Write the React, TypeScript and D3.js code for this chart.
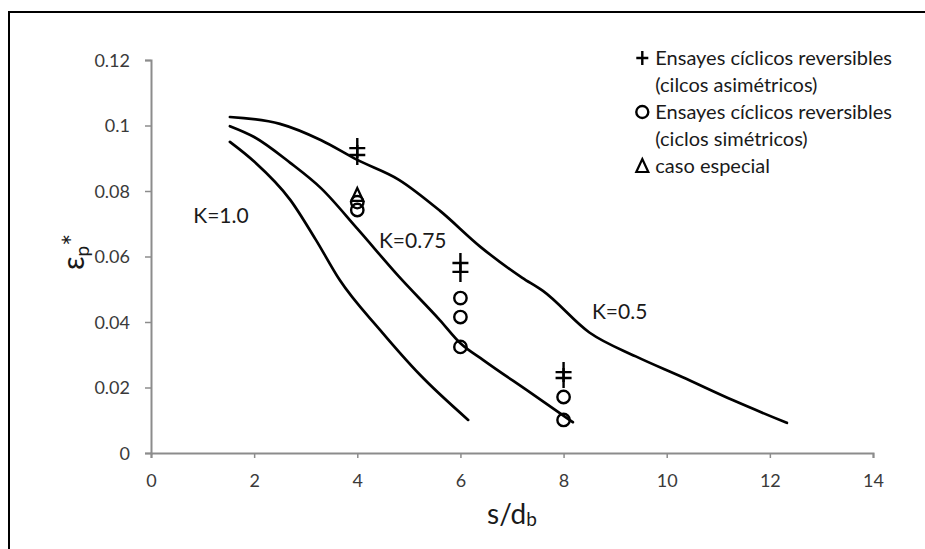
import React, { useEffect, useRef } from 'react';
import * as d3 from 'd3';

// tick values and labels (Excel style)
const xTicks = [0, 2, 4, 6, 8, 10, 12, 14];
const yTicks = [0, 0.02, 0.04, 0.06, 0.08, 0.1, 0.12];
const yTickLabels = ['0', '0.02', '0.04', '0.06', '0.08', '0.1', '0.12'];

// fitted curves, [s/db, ep*]
const curveK05 = [
  [1.53, 0.1026], [2.5, 0.1005], [3.3, 0.0955], [4.0, 0.0895], [4.8, 0.0835],
  [5.6, 0.074], [6.4, 0.0628], [7.2, 0.0535], [7.6, 0.0495], [8.5, 0.0368],
  [9.4, 0.0295], [10.3, 0.0232], [11.3, 0.016], [12.33, 0.0092],
];
const curveK075 = [
  [1.53, 0.0998], [2.0, 0.0965], [2.7, 0.0886], [3.3, 0.0808], [4.0, 0.0685],
  [4.8, 0.054], [5.6, 0.0406], [6.0, 0.0335], [6.45, 0.0283], [7.35, 0.0185],
  [8.18, 0.0094],
];
const curveK10 = [
  [1.53, 0.095], [2.0, 0.089], [2.7, 0.0773], [3.2, 0.065], [3.66, 0.0528],
  [4.44, 0.0376], [5.22, 0.0238], [6.15, 0.0101],
];

// test points
const asimetricos = [
  [4, 0.0931], [4, 0.091], [6, 0.058], [6, 0.0553], [8, 0.0247], [8, 0.0229],
];
const simetricos = [
  [4, 0.0766], [4, 0.0742], [6, 0.0473], [6, 0.0415], [6, 0.0324],
  [8, 0.0171], [8, 0.0101],
];
const especial = [[4, 0.0788]];

const curveLabels = [
  { text: 'K=1.0', x: 0.82, y: 0.0725 },
  { text: 'K=0.75', x: 4.42, y: 0.0648 },
  { text: 'K=0.5', x: 8.55, y: 0.0432 },
];

const legendLines = [
  { sym: 'plus', text: 'Ensayes cíclicos reversibles' },
  { sym: null, text: '(cilcos asimétricos)' },
  { sym: 'circle', text: 'Ensayes cíclicos reversibles' },
  { sym: null, text: '(ciclos simétricos)' },
  { sym: 'tri', text: 'caso especial' },
];

const FONT = 'Lato, "Open Sans", sans-serif';

const App: React.FC = () => {
  const chartRef = useRef<SVGSVGElement>(null);

  useEffect(() => {
    const svg = d3.select(chartRef.current);
    svg.selectAll('*').remove();

    const x = d3.scaleLinear().domain([0, 14]).range([151, 873]);
    const y = d3.scaleLinear().domain([0, 0.12]).range([453, 60]);

    svg.append('rect').attr('width', 925).attr('height', 549).attr('fill', '#fff');

    // outer frame
    svg
      .append('path')
      .attr('d', 'M9,560 L9,12 L925,12')
      .attr('fill', 'none')
      .attr('stroke', '#000')
      .attr('stroke-width', 2);

    const axisColor = '#8c8c8c';

    const gx = svg
      .append('g')
      .attr('transform', `translate(0,${y(0)})`)
      .call(d3.axisBottom(x).tickValues(xTicks).tickSize(5).tickPadding(16).tickFormat(d3.format('d')));
    const gy = svg
      .append('g')
      .attr('transform', `translate(${x(0)},0)`)
      .call(
        d3
          .axisLeft(y)
          .tickValues(yTicks)
          .tickSize(6)
          .tickPadding(15)
          .tickFormat((d, i) => yTickLabels[i])
      );

    [gx, gy].forEach((g) => {
      g.select('.domain').attr('stroke', axisColor).attr('stroke-width', 2);
      g.selectAll('.tick line').attr('stroke', axisColor).attr('stroke-width', 1.5);
      g.selectAll('.tick text')
        .attr('fill', '#3a3a3a')
        .attr('font-family', FONT)
        .attr('font-size', 18);
    });
    gy.selectAll('.tick text').attr('dy', '0.35em');

    // curves
    const line = d3
      .line()
      .curve(d3.curveMonotoneX)
      .x((d) => x(d[0]))
      .y((d) => y(d[1]));

    [curveK05, curveK075, curveK10].forEach((c) => {
      svg
        .append('path')
        .datum(c)
        .attr('d', line)
        .attr('fill', 'none')
        .attr('stroke', '#000')
        .attr('stroke-width', 2.7)
        .attr('stroke-linecap', 'round');
    });

    // markers
    const drawPlus = (g, cx, cy, s = 8, v = 10) => {
      g.append('path')
        .attr('d', `M${cx - s},${cy} H${cx + s} M${cx},${cy - v} V${cy + v}`)
        .attr('stroke', '#000')
        .attr('stroke-width', 2.4)
        .attr('fill', 'none');
    };
    const drawCircle = (g, cx, cy, r = 6.2) => {
      g.append('circle')
        .attr('cx', cx)
        .attr('cy', cy)
        .attr('r', r)
        .attr('fill', 'none')
        .attr('stroke', '#000')
        .attr('stroke-width', 2.4);
    };
    const drawTri = (g, cx, cy, s = 6) => {
      g.append('path')
        .attr('d', `M${cx},${cy - s - 1} L${cx + s},${cy + s} L${cx - s},${cy + s} Z`)
        .attr('fill', 'none')
        .attr('stroke', '#000')
        .attr('stroke-width', 2.2);
    };

    const marks = svg.append('g');
    simetricos.forEach((d) => drawCircle(marks, x(d[0]), y(d[1])));
    especial.forEach((d) => drawTri(marks, x(d[0]), y(d[1])));
    asimetricos.forEach((d) => drawPlus(marks, x(d[0]), y(d[1])));

    // curve labels
    svg
      .append('g')
      .selectAll('text')
      .data(curveLabels)
      .join('text')
      .attr('x', (d) => x(d.x))
      .attr('y', (d) => y(d.y))
      .attr('dy', '0.35em')
      .attr('font-family', FONT)
      .attr('font-size', 21)
      .attr('fill', '#1a1a1a')
      .text((d) => d.text);

    // legend, right edge of the text block sits at x=892
    const lg = svg.append('g');
    const legY0 = 58;
    const legStep = 27;
    const texts = legendLines.map((l, i) =>
      lg
        .append('text')
        .attr('y', legY0 + i * legStep)
        .attr('dy', '0.35em')
        .attr('font-family', FONT)
        .attr('font-size', 20)
        .attr('fill', '#1a1a1a')
        .text(l.text)
    );
    const maxW = d3.max(texts, (t) => t.node().getComputedTextLength()) || 240;
    const legX = 892 - maxW;
    texts.forEach((t) => t.attr('x', legX));
    legendLines.forEach((l, i) => {
      const cy = legY0 + i * legStep;
      const sx = legX - 13;
      if (l.sym === 'plus') drawPlus(lg, sx, cy, 6, 7);
      if (l.sym === 'circle') drawCircle(lg, sx, cy, 6);
      if (l.sym === 'tri') drawTri(lg, sx, cy, 6);
    });

    // axis titles
    const xt = svg
      .append('text')
      .attr('x', 512)
      .attr('y', 524)
      .attr('text-anchor', 'middle')
      .attr('font-family', FONT)
      .attr('font-size', 28)
      .attr('fill', '#1a1a1a');
    xt.append('tspan').text('s/d');
    xt.append('tspan').attr('font-size', 19).attr('dy', 2).text('b');

    const yt = svg
      .append('text')
      .attr('transform', 'translate(84,252) rotate(-90)')
      .attr('text-anchor', 'middle')
      .attr('font-family', FONT)
      .attr('font-size', 28)
      .attr('fill', '#1a1a1a');
    yt.append('tspan').attr('font-size', 30).text('ε');
    yt.append('tspan').attr('font-size', 19).attr('dy', 5).text('p');
    yt.append('tspan').attr('dy', -5).text('*');
  }, []);

  return (
    <svg
      ref={chartRef}
      width={925}
      height={549}
      style={{ position: 'absolute', left: 0, top: 0, display: 'block' }}
    ></svg>
  );
};

export default App;
